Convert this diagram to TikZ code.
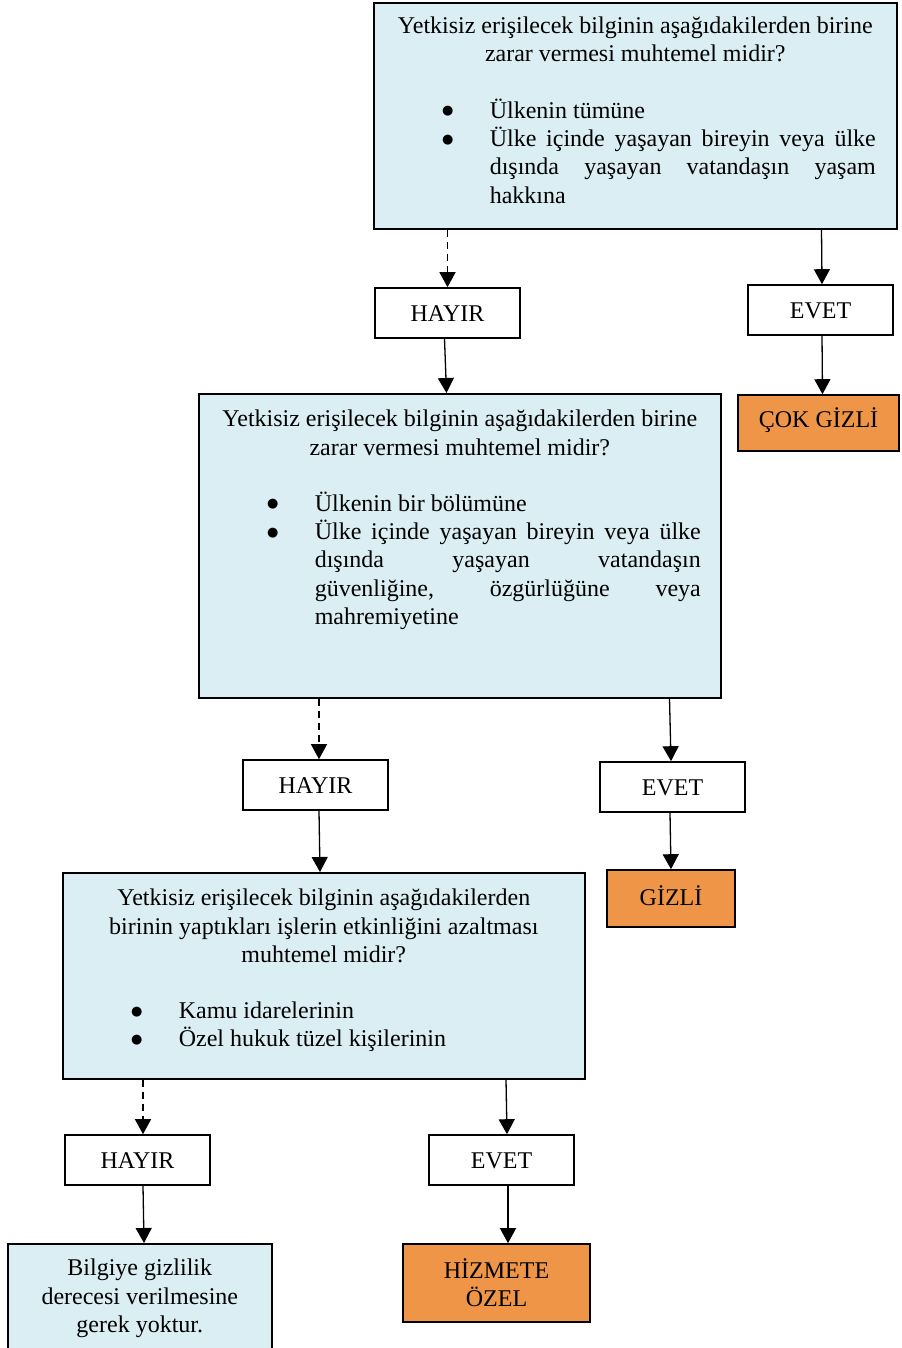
\documentclass[tikz,border=0pt]{standalone}
\usepackage{fontspec}
\setmainfont{Liberation Serif}
\newfontfamily\qsym{DejaVu Sans}
\usetikzlibrary{arrows.meta}
\definecolor{qblue}{HTML}{DAEEF3}
\definecolor{qorange}{HTML}{EE9548}
\newdimen\qw
\newcommand\qstrut{\vrule height 20bp depth 8.2bp width 0pt}
\newcommand\qdot{\raisebox{3.5bp}{\qsym\fontsize{13bp}{13bp}\selectfont ●}}
\newcommand\qline[1]{\hbox to \qw{\qstrut\hss #1\hss}}
\newcommand\qbul[2]{\hbox to \qw{\qstrut\hskip 74bp\hbox to 0pt{\hss #1\hss}\hskip 42bp #2\hss}}
\newcommand\qjust[1]{\makebox[386bp][s]{#1}}
\newcommand\qgap{\vskip 28.2bp}
\begin{document}
\begin{tikzpicture}[x=1bp,y=-1bp,
  font=\fontsize{24bp}{28.2bp}\selectfont,
  qbox/.style={draw=black, line width=1.6bp, fill=qblue, inner sep=0pt, anchor=north west},
  ansbox/.style={draw=black, line width=1.6bp, fill=white, inner sep=0pt, minimum width=145bp, minimum height=50bp, text height=16bp, text depth=0pt},
  resbox/.style={draw=black, line width=1.6bp, fill=qorange, inner sep=0pt, align=center},
  arr/.style={line width=1.3bp, -{Triangle[length=15bp,width=16bp]}},
  darr/.style={arr, dash pattern=on 7bp off 5bp}]
\fill[white] (0,0) rectangle (901,1348);
\useasboundingbox (0,0) rectangle (901,1348);

% question boxes
\node[qbox] (b1) at (373,2) {\qw=523bp\vbox to 226bp{\vskip 11bp
  \qline{Yetkisiz erişilecek bilginin aşağıdakilerden birine}
  \qline{zarar vermesi muhtemel midir?}
  \qgap
  \qbul{\qdot}{Ülkenin tümüne}
  \qbul{\qdot}{\qjust{Ülke içinde yaşayan bireyin veya ülke}}
  \qbul{}{\qjust{dışında yaşayan vatandaşın yaşam}}
  \qbul{}{hakkına}
  \vss}};

\node[qbox] (b2) at (198,393) {\qw=522bp\vbox to 304bp{\vskip 13bp
  \qline{Yetkisiz erişilecek bilginin aşağıdakilerden birine}
  \qline{zarar vermesi muhtemel midir?}
  \qgap
  \qbul{\qdot}{Ülkenin bir bölümüne}
  \qbul{\qdot}{\qjust{Ülke içinde yaşayan bireyin veya ülke}}
  \qbul{}{\qjust{dışında yaşayan vatandaşın}}
  \qbul{}{\qjust{güvenliğine, özgürlüğüne veya}}
  \qbul{}{mahremiyetine}
  \vss}};

\node[qbox] (b3) at (62,872) {\qw=522bp\vbox to 206bp{\vskip 13bp
  \qline{Yetkisiz erişilecek bilginin aşağıdakilerden}
  \qline{birinin yaptıkları işlerin etkinliğini azaltması}
  \qline{muhtemel midir?}
  \qgap
  \qbul{\qdot}{Kamu idarelerinin}
  \qbul{\qdot}{Özel hukuk tüzel kişilerinin}
  \vss}};

\node[qbox] (b4) at (7,1243) {\qw=264bp\vbox to 117bp{\vskip 12bp
  \qline{Bilgiye gizlilik}
  \qline{derecesi verilmesine}
  \qline{gerek yoktur.}
  \vss}};

% answer boxes
\node[ansbox] (h1) at (447.5,313) {HAYIR};
\node[ansbox] (e1) at (820.5,310) {EVET};
\node[ansbox] (h2) at (315.5,785) {HAYIR};
\node[ansbox] (e2) at (672.5,787) {EVET};
\node[ansbox] (h3) at (137.5,1160) {HAYIR};
\node[ansbox] (e3) at (501.5,1160) {EVET};

% results
\node[resbox, minimum width=161bp, minimum height=56bp, text height=16bp, text depth=8bp] (c1) at (818.5,423) {ÇOK GİZLİ};
\node[resbox, minimum width=128bp, minimum height=57bp, text height=16bp, text depth=3bp] (g1) at (671,898.5) {GİZLİ};
\node[resbox, minimum width=187bp, minimum height=78bp] (z1) at (496.5,1283) {HİZMETE\\ÖZEL};

% connectors
\draw[darr] (h1.north |- b1.south) -- (h1.north);
\draw[arr] ([xshift=1bp]e1.north |- b1.south) -- ([xshift=1.5bp]e1.north);
\draw[arr] ([xshift=-3bp]h1.south) -- ([xshift=-1bp]h1.south |- b2.north);
\draw[arr] ([xshift=1.5bp]e1.south) -- ([xshift=2bp]e1.south |- c1.north);

\draw[darr] ([xshift=3.5bp]h2.north |- b2.south) -- ([xshift=3.5bp]h2.north);
\draw[arr] ([xshift=-3bp]e2.north |- b2.south) -- ([xshift=-1.5bp]e2.north);
\draw[arr] ([xshift=3.5bp]h2.south) -- ([xshift=4.5bp]h2.south |- b3.north);
\draw[arr] ([xshift=-2.5bp]e2.south) -- ([xshift=-1.5bp]e2.south |- g1.north);

\draw[darr] ([xshift=5.5bp]h3.north |- b3.south) -- ([xshift=5.5bp]h3.north);
\draw[arr] ([xshift=4.5bp]e3.north |- b3.south) -- ([xshift=5.5bp]e3.north);
\draw[arr] ([xshift=5.5bp]h3.south) -- ([xshift=6.5bp]h3.south |- b4.north);
\draw[arr] ([xshift=6.5bp]e3.south) -- ([xshift=6.5bp]e3.south |- z1.north);
\end{tikzpicture}
\end{document}
